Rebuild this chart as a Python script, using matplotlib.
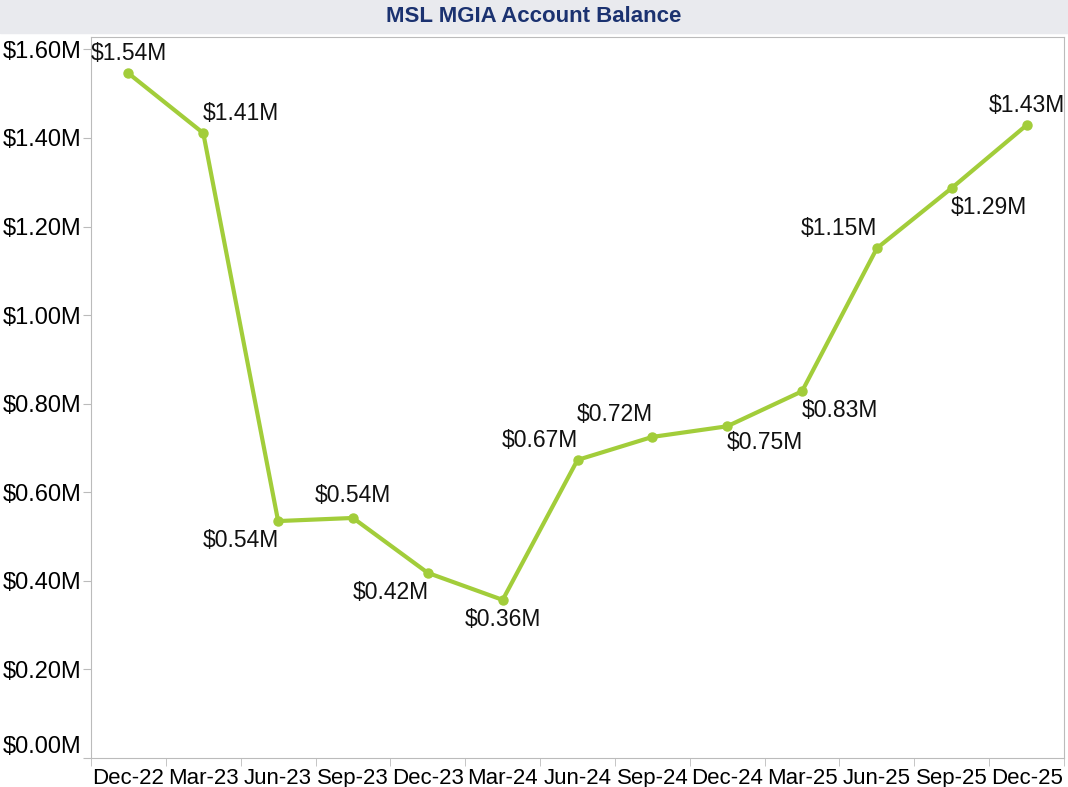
import numpy as np
import matplotlib
matplotlib.use('Agg')
import matplotlib.pyplot as plt

plt.rcParams['font.family'] = ['Liberation Sans', 'DejaVu Sans']

quarters = ['Dec-22', 'Mar-23', 'Jun-23', 'Sep-23', 'Dec-23', 'Mar-24', 'Jun-24',
            'Sep-24', 'Dec-24', 'Mar-25', 'Jun-25', 'Sep-25', 'Dec-25']
balance = [1.546, 1.411, 0.535, 0.542, 0.418, 0.357, 0.673,
           0.725, 0.749, 0.828, 1.151, 1.287, 1.429]
labels = ['$1.54M', '$1.41M', '$0.54M', '$0.54M', '$0.42M', '$0.36M', '$0.67M',
          '$0.72M', '$0.75M', '$0.83M', '$1.15M', '$1.29M', '$1.43M']
# label offsets in points (dx, dy)
offsets = [(0, 14), (27, 14), (-27, -14), (0, 16), (-27, -14), (0, -14), (-27, 14),
           (-27, 16), (27, -12), (27, -14), (-27, 14), (27, -14), (0, 14)]

fig = plt.figure(figsize=(10.68, 7.87), dpi=100)
fig.patches.append(plt.Rectangle((0, 1 - 33 / 787), 1, 33 / 787, transform=fig.transFigure,
                                 color='#E9EAEE', zorder=0))
fig.text(0.5, 1 - 17 / 787, 'MSL MGIA Account Balance', ha='center', va='center',
         fontsize=16, fontweight='bold', color='#1B3270')

ax = fig.add_axes([91 / 1068, 1 - 758 / 787, (1064 - 91) / 1068, (758 - 37) / 787])
x = np.arange(len(quarters))
ax.plot(x, balance, color='#A2CD3A', lw=3, marker='o', ms=6.5, solid_capstyle='round')

for xi, v, lab, (dx, dy) in zip(x, balance, labels, offsets):
    ax.annotate(lab, (xi, v), xytext=(dx, dy), textcoords='offset points',
                ha='center', va='center', fontsize=16.5, color='#111111')

ax.set_xlim(-0.5, len(quarters) - 0.5)
ax.set_ylim(0, 1.628)
yt = np.arange(0, 1.61, 0.2)
ax.set_yticks(yt)
ax.set_yticklabels(['$%.2fM' % t for t in yt])
ax.get_yticklabels()[0].set_va('bottom')
ax.set_xticks(x)
ax.set_xticklabels(quarters)
ax.set_xticks(np.arange(-0.5, len(quarters), 1), minor=True)
ax.tick_params(axis='x', which='major', length=0, pad=7, labelsize=16)
ax.tick_params(axis='x', which='minor', length=6, color='#BBBBBB')
ax.tick_params(axis='y', length=6, color='#BBBBBB', labelsize=17, pad=1)
for s in ax.spines.values():
    s.set_color('#BBBBBB')

fig.savefig('out.png', dpi=100)
